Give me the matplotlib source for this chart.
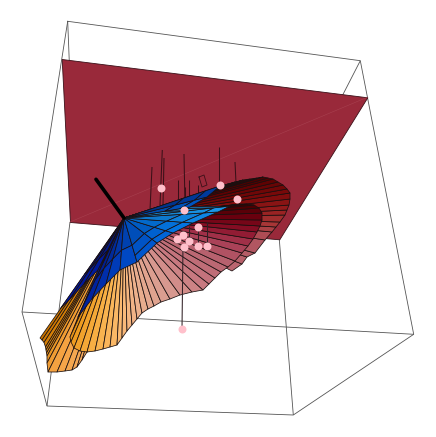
import numpy as np
import matplotlib
matplotlib.use("Agg")
import matplotlib.pyplot as plt
from matplotlib.collections import PolyCollection, LineCollection
from matplotlib.colors import LinearSegmentedColormap as LSC

# In image pixels
box_outer = [(67.7,21.3),(360.3,60.7),(413.7,334.3),(293.3,415),(47,406),(22,312),(67.7,21.3)]
box_inner = [[(22,312),(413.7,334.3)],[(293.3,415),(279.3,239.3)],[(47,406),(70,222)],
             [(67.7,21.3),(69.3,62)],[(360.3,60.7),(342.7,95)]]
plane = [(61.7,59),(367.3,97.3),(279.3,239.3),(70,222)]
plane_diag = [(70,222),(367.3,97.3)]
apex = (124,218)
stick_end = (96,179.3)

rear_left = [(40,338),(42,340),(44,342.5),(45.5,347),(46,350),(46.5,353),(47,356),(47,363),
             (48,372),(57,372),(65,371),(72,370),(77,367),(82,360),(87,352),(100,345),(130,300)]
rear_right = [(232,271),(242,264),(247,257),(255,253),(265,240),(272,232),(276,227),(280,222),(285,215),(287,210),
              (289,205),(290,199),(290,193),(287,189),(283,185),(278,182),(273,179),(268,178),(263,177),(257,178),
              (250,179),(243,180),(235,182),(228,184),(220,186)]
front = [(78,317),(70,337),(71,342),(74,348),(80,351),(87,352),(95,351),(103,349),(110,347),(117,345),
         (122,338),(127,331),(132,325),(137,319),(142,313),(148,309),(154,306),(161,302),(170,299),
         (180,295),(192,292),(203,290),(209,284),(215,278),(221,272),(228,267),(235,261),(242,253),
         (248,246),(253,239),(257,232),(260,226),(262,220),(262,213),(259,208),(254,205),(247,204),
         (240,204),(232,205)]
blue = [(60,309),(70,299),(84,284),(98,270),(78,317),(92,299),(106,284),(120,270),(137,262),
        (157,243),(173,233),(193,223),(218,212),(230,206),(190,207),(207,197),(220,186)]
ring_inner = 0.62
ring_outer = 0.85
ring_split = 8

upper_sticks = [[(162.3,150),(160,205)],[(164,158),(163,205)],[(152,167),(150,210)],[(184,154),(185,206)],
                [(178,180),(178,200)],[(189,180),(189,198)],[(185,187),(185,200)],[(198,185),(198,194)],
                [(219,147),(219,185)],[(235,162),(236,183)]]
small_box = [(199,177),(204,175),(207,185),(202,187),(199,177)]
lower_sticks = [[(198,227),(198,246)],[(207,222),(207,246)],[(183,245),(182,329)],[(189,226),(189,240)]]
point_x = [160.5,219.5,237,184,198,183,177,189,184,198,207,182]
point_y = [188,185,199,210,227,235,239,241,247,246,246,329]

fig = plt.figure(figsize=(4.36,4.37), dpi=100)
ax = fig.add_axes([0,0,1,1])
ax.set_xlim(0,436); ax.set_ylim(437,0); ax.axis('off')

edge = '#555555'
ax.plot(*zip(*box_outer), color=edge, lw=0.6, zorder=1)
ax.add_collection(LineCollection(box_inner, colors=edge, linewidths=0.6, zorder=1))
ax.add_collection(PolyCollection([plane], facecolors='#99293a', edgecolors='#3a1018', linewidths=0.6, zorder=2))
ax.plot(*zip(*plane_diag), color='#a8404f', lw=0.4, zorder=2.1)
ax.add_collection(LineCollection(upper_sticks, colors='#3a1018', linewidths=0.75, zorder=2.2))
ax.plot(*zip(*small_box), color='#3a1018', lw=0.6, zorder=2.2)

def fan(outer, cmap, z, f0=0.0, f1=1.0, dark=1.0, lw=0.55, first=0, last=None):
    pts = np.array(outer, float); p = np.array(apex, float)
    polys, cols = [], []
    n = len(pts) - 1
    last = n if last is None else last
    for i in range(first, last):
        a, b = pts[i], pts[i+1]
        polys.append([p+(a-p)*f0, p+(a-p)*f1, p+(b-p)*f1, p+(b-p)*f0])
        c = np.array(cmap(i/max(n-1,1)))[:3]*dark
        cols.append(np.clip(c,0,1))
    ax.add_collection(PolyCollection(polys, facecolors=cols, edgecolors='#1a1010', linewidths=lw, zorder=z))

cm_rl = LSC.from_list('rl', [(0,'#c87400'),(0.3,'#e28c10'),(0.55,'#f5a445'),(1,'#f6ae6c')])
cm_rr = LSC.from_list('rr', [(0,'#bb6670'),(0.14,'#b05560'),(0.25,'#a83838'),(0.38,'#951c1c'),
                             (0.5,'#7c0a0a'),(0.7,'#560000'),(1,'#2c0000')])
cm_f = LSC.from_list('f', [(0,'#d98a10'),(0.05,'#ee9c20'),(0.15,'#f9b24a'),(0.26,'#fbba78'),(0.36,'#ebb08e'),
                           (0.48,'#d89a90'),(0.57,'#c87880'),(0.67,'#b86470'),(0.74,'#a83c54'),
                           (0.8,'#8a1028'),(0.86,'#6c0010'),(0.93,'#480000'),(1,'#200000')])
cm_b = LSC.from_list('b', [(0,'#00159a'),(0.25,'#001f9c'),(0.45,'#0044c0'),(0.65,'#0070e0'),
                           (0.8,'#1a96e8'),(0.87,'#1a96e8'),(0.92,'#0058c8'),(1,'#003a9c')])
fan(rear_left, cm_rl, 3)
fan(rear_right, cm_rr, 3)
fan(front, cm_f, 4)
fan(blue, cm_b, 5, 0.0, ring_inner, dark=0.9)
fan(blue, cm_b, 5, ring_inner, 1.0, last=ring_split)
fan(blue, cm_b, 5, ring_inner, ring_outer, dark=0.96, first=ring_split)
fan(blue, cm_b, 5, ring_outer, 1.0, first=ring_split)

ax.plot(*zip(apex, stick_end), color='black', lw=2.6, solid_capstyle='round', zorder=6)
ax.add_collection(LineCollection(lower_sticks, colors='#302025', linewidths=0.75, zorder=6))
ax.scatter(point_x, point_y, s=33, color='#ffc0cb', linewidths=0, zorder=7)

fig.savefig('out.png', dpi=100)
